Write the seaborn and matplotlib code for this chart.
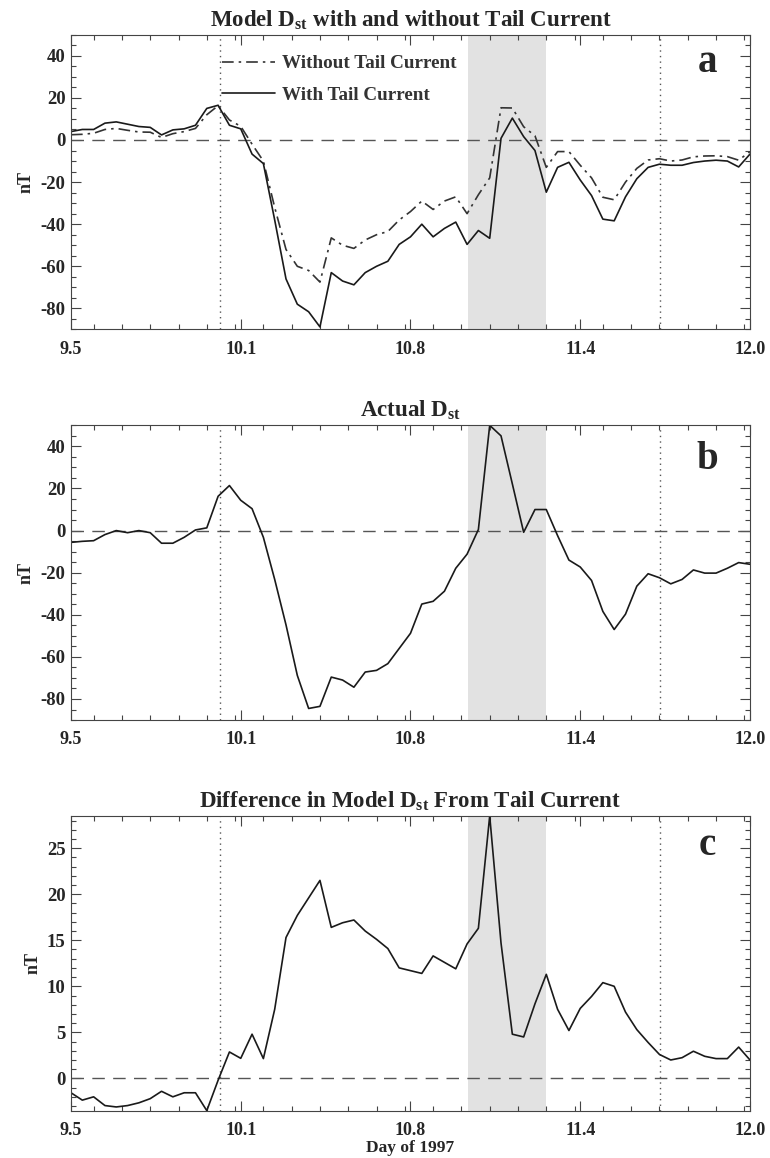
import numpy as np
import pandas as pd
import matplotlib
matplotlib.use("Agg")
import matplotlib.pyplot as plt
import seaborn as sns
from matplotlib.ticker import FixedLocator, MultipleLocator

# hourly samples, day 9.5 .. 12.0 of 1997
hours = np.arange(61)
day = 9.5 + hours / 24.0

# panel a: model Dst (nT)
with_tail = [4, 5, 5, 8, 8.6, 7.5, 6.4, 6, 2.4, 4.8, 5.3, 7, 15, 16.5, 7, 5.3,
             -6.7, -11.2, -38, -66, -78, -81.6, -88.8, -63, -67, -68.8, -63, -60,
             -57.6, -49.6, -46, -40, -46, -42, -39, -49.6, -43, -46.7, 0.8, 10.4,
             1.6, -5, -24.8, -13, -10.6, -19, -26.4, -37.6, -38.4, -27, -18.4, -13,
             -11.5, -12, -12, -10.7, -10, -9.6, -10, -12.8, -6.7]
without_tail = [2.5, 2.7, 3.2, 5, 5.5, 4.6, 3.8, 3.7, 1.2, 3.0, 4.0, 5.5, 12, 16.3,
                9.5, 6.5, -2, -10, -32, -52, -60, -62, -67.5, -46.5, -50, -51.5,
                -47.5, -45, -43.5, -38, -34, -29, -33, -29, -27, -35, -26, -18, 15.3,
                15.2, 6.3, 2, -13, -5.5, -5.5, -12, -18, -27.2, -28.4, -20, -13.5,
                -9.5, -8.9, -10, -9.5, -8, -7.6, -7.5, -7.9, -9.6, -5.5]

# panel b: actual Dst (nT)
actual_dst = [-5.6, -5.1, -4.8, -1.9, 0, -1, 0, -1, -6, -6, -3.2, 0.3, 1.3, 16.3,
              21.4, 14.4, 10.4, -3.2, -23.2, -44.8, -68.8, -84.5, -83.5, -69.6, -71,
              -74.4, -67.2, -66.4, -63.2, -56, -48.8, -34.9, -33.6, -28.8, -17.9,
              -11.2, 0.5, 50, 45, 22.2, -0.8, 10, 10, -2.4, -14, -17.3, -23.7, -38.4,
              -47, -39.7, -26.4, -20.5, -22.4, -25.3, -23.2, -18.7, -20.2, -20.2,
              -17.9, -15.2, -16]

# panel c: difference from tail current (nT)
tail_diff = [-1.56, -2.36, -2.0, -2.95, -3.1, -2.95, -2.65, -2.2, -1.4, -2.0, -1.56,
             -1.56, -3.5, -0.2, 2.87, 2.18, 4.8, 2.15, 7.5, 15.3, 17.7, 19.6, 21.5,
             16.4, 16.9, 17.2, 16.0, 15.1, 14.1, 12.0, 11.7, 11.4, 13.3, 12.6, 11.9,
             14.6, 16.3, 28.5, 14.7, 4.8, 4.5, 8.1, 11.3, 7.5, 5.2, 7.6, 8.9, 10.4,
             10.0, 7.2, 5.3, 3.9, 2.6, 2.0, 2.25, 2.95, 2.4, 2.15, 2.15, 3.4, 2.0]

tick_labels = ["9.5", "10.1", "10.8", "11.4", "12.0"]
event_days = [10.05, 11.67]
shade_span = (10.96, 11.25)

df = pd.DataFrame({"day": day, "with": with_tail, "without": without_tail,
                   "actual": actual_dst, "diff": tail_diff})

sns.set_style("ticks")
plt.rcParams["font.family"] = ["Liberation Serif", "DejaVu Serif"]
plt.rcParams["font.weight"] = "bold"
plt.rcParams["axes.unicode_minus"] = False
plt.rcParams["mathtext.fontset"] = "custom"
plt.rcParams["mathtext.rm"] = "Liberation Serif:bold"
plt.rcParams["mathtext.bf"] = "Liberation Serif:bold"
plt.rcParams["mathtext.it"] = "Liberation Serif:bold"

fig = plt.figure(figsize=(7.7, 11.58), dpi=100)
left, width, height = 0.0922, 0.8818, 0.2545
ax_a = fig.add_axes([left, 0.7155, width, height])
ax_b = fig.add_axes([left, 0.3782, width, height])
ax_c = fig.add_axes([left, 0.0409, width, height])

sns.lineplot(data=df, x="day", y="without", ax=ax_a, color="#333333", lw=1.2,
             linestyle=(0, (7, 3, 1.5, 3)), label="Without Tail Current")
sns.lineplot(data=df, x="day", y="with", ax=ax_a, color="#1a1a1a", lw=1.2,
             label="With Tail Current")
sns.lineplot(data=df, x="day", y="actual", ax=ax_b, color="#1a1a1a", lw=1.2)
sns.lineplot(data=df, x="day", y="diff", ax=ax_c, color="#1a1a1a", lw=1.2)

titles = ["Model D$_{st}$ with and without Tail Current", "Actual D$_{st}$",
          "Difference in Model D$_{st}$ From Tail Current"]
letters = [("a", 0.875), ("b", 0.853), ("c", 0.868)]
limits = [(-90, 50), (-90, 50), (-3.5, 28.5)]

for ax, title, (letter, ly), ylim in zip([ax_a, ax_b, ax_c], titles, letters, limits):
    ax.axvspan(*shade_span, color="#e2e2e2", lw=0, zorder=0)
    for d in event_days:
        ax.axvline(d, color="#555555", lw=1.0, linestyle=(0, (1, 3)), zorder=1)
    ax.axhline(0, color="#555555", lw=1.0, linestyle=(0, (9, 6)), zorder=1)
    ax.set_xlim(9.5, 12.0)
    ax.set_ylim(*ylim)
    ax.xaxis.set_major_locator(FixedLocator(np.linspace(9.5, 12.0, 5)))
    ax.xaxis.set_minor_locator(MultipleLocator(0.625 / 6))
    ax.set_xticklabels(tick_labels)
    if ylim[1] > 40:
        ax.yaxis.set_major_locator(FixedLocator([-80, -60, -40, -20, 0, 20, 40]))
        ax.yaxis.set_minor_locator(MultipleLocator(5))
    else:
        ax.yaxis.set_major_locator(FixedLocator([0, 5, 10, 15, 20, 25]))
        ax.yaxis.set_minor_locator(MultipleLocator(1))
    ax.tick_params(which="both", direction="in", top=True, right=True,
                   labelsize=13, width=0.8, color="#444444")
    ax.tick_params(which="major", length=7)
    ax.tick_params(which="minor", length=3.5)
    ax.tick_params(axis="x", pad=8)
    ax.tick_params(axis="y", pad=4, labelsize=13.5)
    for lab in ax.get_xticklabels() + ax.get_yticklabels():
        lab.set_fontweight("bold")
    for sp in ax.spines.values():
        sp.set_linewidth(0.8)
        sp.set_color("#444444")
    ax.set_title(title, fontsize=16.5, fontweight="bold", pad=6)
    ax.set_ylabel("nT", fontsize=13, fontweight="bold", labelpad=4)
    ax.set_xlabel("")
    ax.text(0.937, ly, letter, transform=ax.transAxes, fontsize=28,
            fontweight="bold", ha="center", va="baseline")

ax_c.set_xlabel("Day of 1997", fontsize=12.5, fontweight="bold", labelpad=1)

ax_a.legend(loc="upper left", bbox_to_anchor=(0.197, 0.99), frameon=False,
            handlelength=2.75, handletextpad=0.36, labelspacing=0.72,
            prop={"family": "Liberation Serif", "weight": "bold", "size": 13.8},
            labelcolor="#333333")

fig.savefig("out.png", dpi=100)
